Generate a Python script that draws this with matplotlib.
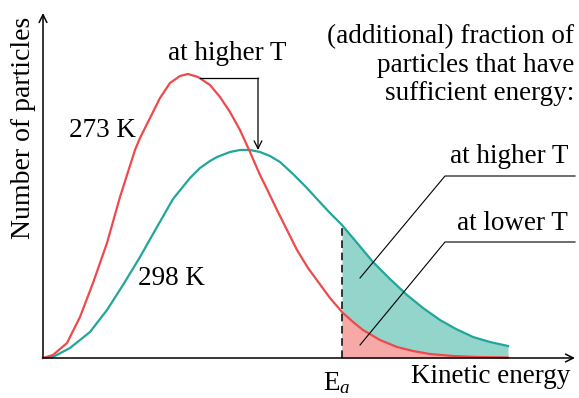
import matplotlib
matplotlib.use("Agg")
import matplotlib.pyplot as plt
import numpy as np

plt.rcParams['font.family'] = ['Liberation Serif', 'DejaVu Serif']
plt.rcParams['mathtext.fontset'] = 'custom'
plt.rcParams['mathtext.rm'] = 'Liberation Serif'
plt.rcParams['mathtext.it'] = 'Liberation Serif:italic'

# curves (energy, number of particles)
red_x = [0, 10, 24, 37, 50, 64, 77, 92, 97, 107, 117, 127, 137, 145, 155, 167, 177, 187, 197, 207,
         217, 222, 234, 244, 254, 265, 276, 287, 299, 310, 320, 337, 354, 370, 387, 410, 434, 465]
red_y = [0, 3, 15, 41, 75, 115, 161, 208, 220, 240, 260, 275, 282, 284, 281, 273, 261, 246, 228, 206,
         183, 173, 148, 128, 108, 90, 75, 60, 46, 36, 28, 18, 11, 7, 4, 2, 1, 0.5]

green_x = [0, 10, 27, 47, 64, 80, 97, 114, 130, 147, 157, 167, 174, 187, 197, 207, 217, 227, 237,
           250, 262, 274, 287, 299, 315, 330, 347, 364, 380, 397, 413, 430, 447, 465]
green_y = [0, 1, 10, 26, 48, 73, 101, 131, 159, 180, 190, 197, 201, 206, 208, 208, 206, 202, 196,
           184, 172, 159, 145, 133, 114, 96, 79, 63, 50, 38, 29, 21, 16, 12]

ea = 299
red_label = "273 K"
green_label = "298 K"

red_line = '#ee4a4c'
green_line = '#22a699'
red_fill = '#f7a9a8'
green_fill = '#93d4cb'

fig = plt.figure(figsize=(5.79, 3.98), dpi=100)
ax = fig.add_axes([0, 0, 1, 1])
ax.set_xlim(-43, 536)
ax.set_ylim(-40, 358)
ax.axis('off')

rx, ry = np.array(red_x), np.array(red_y)
gx, gy = np.array(green_x), np.array(green_y)

ax.fill_between(gx, 0, gy, where=gx >= ea, color=green_fill, lw=0)
ax.fill_between(rx, 0, ry, where=rx >= ea, color=red_fill, lw=0)
ax.plot(gx, gy, color=green_line, lw=1.6, solid_joinstyle='round')
ax.plot(rx, ry, color=red_line, lw=1.6, solid_joinstyle='round')

# Ea marker
ax.plot([ea, ea], [0, gy[gx == ea][0]], color='black', lw=1.1, ls=(0, (5, 3)))

# axes with arrows
arr = dict(arrowstyle='->', lw=1.1, color='black', mutation_scale=14, shrinkA=0, shrinkB=0)
ax.annotate('', xy=(0, 345), xytext=(0, 0), arrowprops=arr)
ax.annotate('', xy=(532, 0), xytext=(0, 0), arrowprops=arr)

fs = 19.5
ax.text(-19, 230, 'Number of particles', rotation=90, ha='center', va='center', fontsize=20)
ax.text(527, -25, 'Kinetic energy', ha='right', va='baseline', fontsize=fs)
ax.text(294, -32, r'$\mathrm{E}_a$', ha='center', va='baseline', fontsize=fs)

ax.text(59.5, 221, red_label, ha='center', va='baseline', fontsize=fs)
ax.text(128, 73, green_label, ha='center', va='baseline', fontsize=fs)

# shift of the peak
ax.text(184.5, 298, 'at higher T', ha='center', va='baseline', fontsize=fs)
ax.plot([157, 215], [280, 280], color='black', lw=0.9)
ax.annotate('', xy=(215, 208), xytext=(215, 280),
            arrowprops=dict(arrowstyle='->', lw=0.9, color='black', mutation_scale=14, shrinkA=0, shrinkB=0))

# right hand notes
for txt, yb in zip(['(additional) fraction of', 'particles that have', 'sufficient energy:'], [315, 286, 258]):
    ax.text(531, yb, txt, ha='right', va='baseline', fontsize=fs)

ax.text(525, 195, 'at higher T', ha='right', va='baseline', fontsize=fs)
ax.plot([532, 402, 317], [182, 182, 80], color='black', lw=0.8)
ax.text(525, 128, 'at lower T', ha='right', va='baseline', fontsize=fs)
ax.plot([532, 402, 317], [116, 116, 13], color='black', lw=0.8)

fig.savefig('out.png', dpi=100)
